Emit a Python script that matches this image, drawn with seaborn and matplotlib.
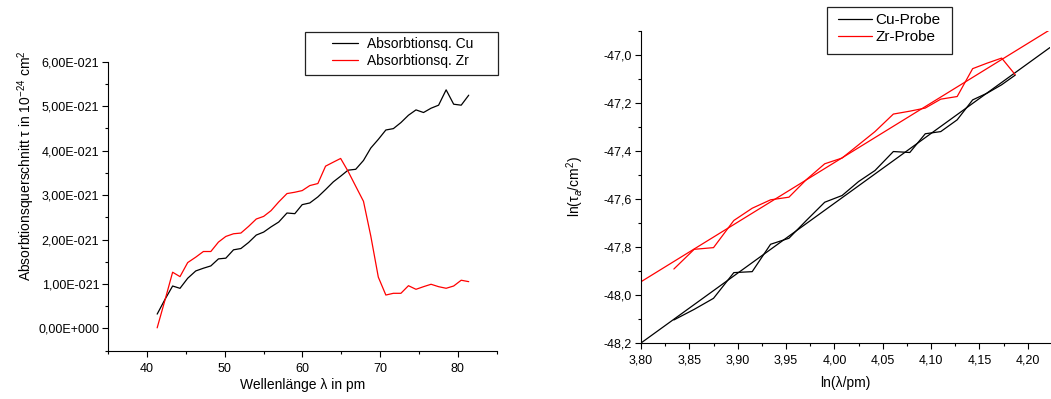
import numpy as np
import pandas as pd
import matplotlib
matplotlib.use("Agg")
import matplotlib.pyplot as plt
from matplotlib.ticker import MultipleLocator, FuncFormatter
from matplotlib.patches import Rectangle
from matplotlib.lines import Line2D
import seaborn as sns

# ---------------- data: left panel (tau in 1e-21 cm^2) ----------------
wavelength_pm = [41.29, 42.30, 43.28, 44.23, 45.22, 46.26, 47.24, 48.20, 49.18, 50.13,
                 51.12, 52.07, 53.06, 54.05, 55.00, 55.95, 56.94, 58.00, 59.01, 59.96,
                 60.94, 61.98, 62.97, 63.97, 64.91, 65.86, 66.85, 67.85, 68.79, 69.76,
                 70.73, 71.70, 72.67, 73.64, 74.61, 75.58, 76.55, 77.52, 78.49, 79.46,
                 80.43, 81.40]
cu_tau = [0.323, 0.655, 0.955, 0.903, 1.129, 1.294, 1.355, 1.407, 1.565, 1.581,
          1.769, 1.798, 1.934, 2.101, 2.168, 2.285, 2.394, 2.597, 2.582, 2.785,
          2.823, 2.959, 3.124, 3.298, 3.425, 3.560, 3.580, 3.779, 4.058, 4.253,
          4.464, 4.495, 4.631, 4.796, 4.916, 4.857, 4.954, 5.022, 5.367, 5.044,
          5.022, 5.247]
zr_tau = [0.014, 0.640, 1.265, 1.166, 1.482, 1.604, 1.731, 1.731, 1.943, 2.070,
          2.130, 2.146, 2.296, 2.462, 2.521, 2.650, 2.846, 3.034, 3.064, 3.101,
          3.214, 3.260, 3.651, 3.741, 3.824, 3.537, 3.199, 2.860, 2.080, 1.155,
          0.752, 0.791, 0.791, 0.962, 0.881, 0.940, 0.994, 0.940, 0.904, 0.955,
          1.085, 1.053]
tau_unit = 1e-21

# ---------------- data: right panel (log-log) ----------------
ln_lambda = [3.834, 3.855, 3.875, 3.896, 3.915, 3.934, 3.953, 3.971, 3.990, 4.008,
             4.025, 4.042, 4.061, 4.078, 4.094, 4.110, 4.127, 4.143, 4.158, 4.173, 4.187]
ln_tau_cu = [-48.104, -48.060, -48.014, -47.907, -47.903, -47.789, -47.764, -47.690,
             -47.614, -47.586, -47.528, -47.482, -47.403, -47.407, -47.329, -47.320,
             -47.271, -47.188, -47.160, -47.125, -47.085]
ln_tau_zr = [-47.892, -47.810, -47.803, -47.690, -47.639, -47.604, -47.593, -47.520,
             -47.454, -47.430, -47.375, -47.320, -47.247, -47.235, -47.222, -47.185,
             -47.174, -47.058, -47.035, -47.014, -47.083]
fit_ln_lambda = [3.800, 4.223]
fit_ln_tau_cu = [-48.200, -46.970]
fit_ln_tau_zr = [-47.945, -46.896]

left_labels = ["Absorbtionsq. Cu", "Absorbtionsq. Zr"]
right_labels = ["Cu-Probe", "Zr-Probe"]

# ---------------- style ----------------
sns.set_theme(style="ticks")
plt.rcParams['font.family'] = ['Liberation Sans', 'DejaVu Sans']
plt.rcParams.update({
    'mathtext.fontset': 'custom',
    'mathtext.rm': 'Liberation Sans',
    'mathtext.it': 'Liberation Sans:italic',
    'axes.edgecolor': 'black',
    'axes.linewidth': 0.8,
    'xtick.color': 'black',
    'ytick.color': 'black',
    'text.color': 'black',
    'axes.labelcolor': 'black',
})

BLACK = '#000000'
RED = '#ff0000'

fig = plt.figure(figsize=(10.51, 3.99), dpi=100)
W, H = 1051, 399

def add_ax(x0, y0, x1, y1):
    return fig.add_axes([x0 / W, 1 - y1 / H, (x1 - x0) / W, (y1 - y0) / H])

axL = add_ax(108.3, 61.7, 496.7, 350.7)
axR = add_ax(641.0, 30.7, 1050.0, 343.0)

# ---------------- left panel ----------------
dfL = pd.DataFrame({
    "lam": wavelength_pm * 2,
    "tau": [v * tau_unit for v in cu_tau] + [v * tau_unit for v in zr_tau],
    "series": [left_labels[0]] * len(cu_tau) + [left_labels[1]] * len(zr_tau),
})
sns.lineplot(data=dfL, x="lam", y="tau", hue="series", palette=[BLACK, RED],
             estimator=None, sort=False, linewidth=0.9, legend=False, ax=axL)
axL.set_xlim(35, 85)
axL.set_ylim(-0.5e-21, 6.0e-21)
axL.xaxis.set_major_locator(MultipleLocator(10))
axL.xaxis.set_minor_locator(MultipleLocator(5))
axL.yaxis.set_major_locator(MultipleLocator(1e-21))
axL.yaxis.set_minor_locator(MultipleLocator(0.5e-21))

def sci_comma(v, pos):
    if abs(v) < 1e-30:
        return "0,00E+000"
    mant, ex = f"{v:.2E}".split('E')
    e = int(ex)
    return f"{mant.replace('.', ',')}E{'-' if e < 0 else '+'}{abs(e):03d}"

axL.yaxis.set_major_formatter(FuncFormatter(sci_comma))
axL.set_xlabel("Wellenlänge λ in pm", fontsize=10)
axL.set_ylabel("Absorbtionsquerschnitt τ in 10$^{-24}$ cm$^{2}$", fontsize=10)

# ---------------- right panel ----------------
dfR = pd.DataFrame({
    "x": ln_lambda * 2,
    "y": ln_tau_cu + ln_tau_zr,
    "series": [right_labels[0]] * len(ln_lambda) + [right_labels[1]] * len(ln_lambda),
})
dfF = pd.DataFrame({
    "x": fit_ln_lambda * 2,
    "y": fit_ln_tau_cu + fit_ln_tau_zr,
    "series": [right_labels[0]] * 2 + [right_labels[1]] * 2,
})
sns.lineplot(data=dfF, x="x", y="y", hue="series", palette=[BLACK, RED],
             estimator=None, sort=False, linewidth=0.9, legend=False, ax=axR)
sns.lineplot(data=dfR, x="x", y="y", hue="series", palette=[BLACK, RED],
             estimator=None, sort=False, linewidth=0.9, legend=False, ax=axR)
axR.set_xlim(3.80, 4.223)
axR.set_ylim(-48.2, -46.9)
axR.xaxis.set_major_locator(MultipleLocator(0.05))
axR.xaxis.set_minor_locator(MultipleLocator(0.025))
axR.yaxis.set_major_locator(MultipleLocator(0.2))
axR.yaxis.set_minor_locator(MultipleLocator(0.1))
axR.xaxis.set_major_formatter(FuncFormatter(lambda v, p: f"{v:.2f}".replace('.', ',')))
axR.yaxis.set_major_formatter(FuncFormatter(lambda v, p: f"{v:.1f}".replace('.', ',')))
axR.set_xlabel("ln(λ/pm)", fontsize=10)
axR.set_ylabel("ln(τ$_{a}$/cm$^{2}$)", fontsize=10)

for ax in (axL, axR):
    sns.despine(ax=ax, top=True, right=True)
    ax.tick_params(which='major', direction='out', length=4.5, width=0.8,
                   labelsize=9, pad=2)
    ax.tick_params(which='minor', direction='out', length=2.5, width=0.8)
    ax.tick_params(axis='x', which='major', pad=4)
    ax.grid(False)

axL.yaxis.label.set(rotation_mode='default', va='center', ha='center')
axL.yaxis.set_label_coords(-0.2106, 0.640)
axL.xaxis.label.set(va='center')
axL.xaxis.set_label_coords(0.5, -0.119)
axR.yaxis.label.set(rotation_mode='default', va='center', ha='center')
axR.yaxis.set_label_coords(-0.161, 0.5)
axR.xaxis.label.set(va='center')
axR.xaxis.set_label_coords(0.5, -0.128)

# ---------------- legends ----------------
def framed_legend(box, handles, labels, anchor, fs, hl, htp, ls):
    x0, y0, x1, y1 = box
    fig.patches.append(Rectangle((x0 / W, 1 - y1 / H), (x1 - x0) / W, (y1 - y0) / H,
                                 transform=fig.transFigure, fill=False,
                                 edgecolor='#222222', linewidth=0.9))
    fig.legend(handles, labels, loc='upper left',
               bbox_to_anchor=(anchor[0] / W, 1 - anchor[1] / H),
               bbox_transform=fig.transFigure, frameon=False, borderpad=0,
               borderaxespad=0, fontsize=fs, handlelength=hl,
               handletextpad=htp, labelspacing=ls)

hL = [Line2D([], [], color=BLACK, lw=0.9), Line2D([], [], color=RED, lw=0.9)]
framed_legend((305, 31.7, 498, 75), hL, left_labels, (332, 37), 10, 1.9, 0.6, 0.2)
hR = [Line2D([], [], color=BLACK, lw=0.9), Line2D([], [], color=RED, lw=0.9)]
framed_legend((826.7, 6.7, 951.7, 54.3), hR, right_labels, (838, 13), 11, 2.2, 0.26, 0.2)

fig.savefig("out.png", dpi=100)
